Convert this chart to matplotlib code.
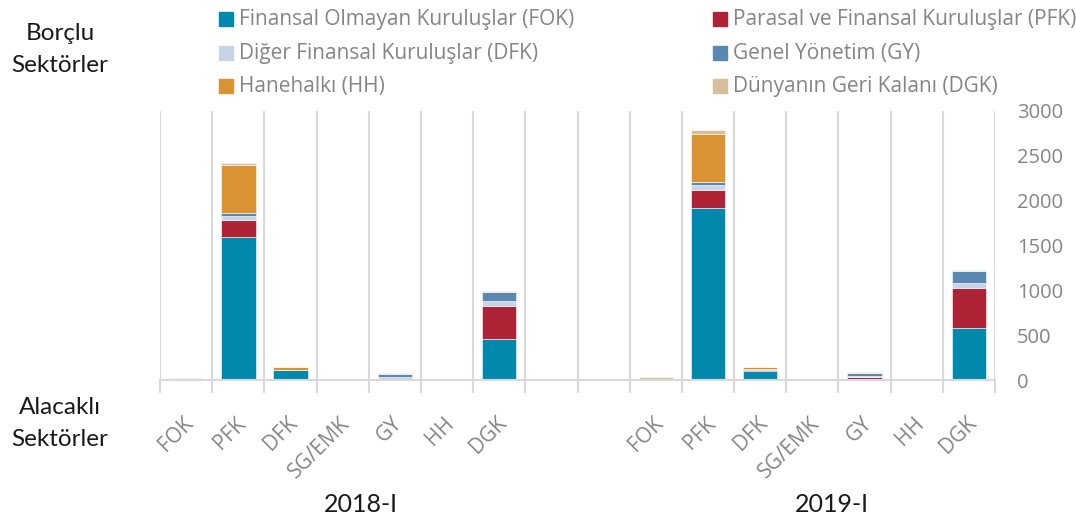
import matplotlib
matplotlib.use("Agg")
import matplotlib.pyplot as plt
from matplotlib.patches import Rectangle
from matplotlib.transforms import blended_transform_factory
import numpy as np

plt.rcParams["font.family"] = ["Lato", "DejaVu Sans"]
LIGHT_FONT = ["Open Sans", "DejaVu Sans"]

categories = ["FOK", "PFK", "DFK", "SG/EMK", "GY", "HH", "DGK"]
periods = ["2018-I", "2019-I"]

series_names = [
    "Finansal Olmayan Kuruluşlar (FOK)",
    "Parasal ve Finansal Kuruluşlar (PFK)",
    "Diğer Finansal Kuruluşlar (DFK)",
    "Genel Yönetim (GY)",
    "Hanehalkı (HH)",
    "Dünyanın Geri Kalanı (DGK)",
]
colors = ["#0089AD", "#AE2335", "#C5D5E6", "#5B87B3", "#DA9332", "#D6BE9A"]

# values per creditor sector, 2018-I
fok_2018 = [0, 1600, 115, 0, 0, 0, 452]
pfk_2018 = [0, 185, 0, 0, 0, 0, 378]
dfk_2018 = [0, 40, 0, 0, 35, 0, 48]
gy_2018 = [0, 38, 0, 0, 30, 0, 103]
hh_2018 = [0, 533, 30, 0, 0, 0, 0]
dgk_2018 = [25, 26, 0, 0, 12, 0, 8]

# 2019-I
fok_2019 = [0, 1918, 100, 0, 0, 0, 585]
pfk_2019 = [0, 200, 10, 0, 35, 0, 445]
dfk_2019 = [0, 52, 0, 0, 5, 0, 51]
gy_2019 = [0, 41, 15, 0, 40, 0, 137]
hh_2019 = [0, 537, 15, 0, 0, 0, 0]
dgk_2019 = [33, 37, 5, 10, 10, 0, 8]

data_2018 = [fok_2018, pfk_2018, dfk_2018, gy_2018, hh_2018, dgk_2018]
data_2019 = [fok_2019, pfk_2019, dfk_2019, gy_2019, hh_2019, dgk_2019]

GRAY = "#858585"
DARK = "#1a1a1a"

fig = plt.figure(figsize=(10.76, 5.22), dpi=100)
ax = fig.add_axes([160 / 1076, 1 - 380 / 522, 835 / 1076, 269 / 522])

n_slots = 16
x_2018 = np.arange(7)
x_2019 = np.arange(9, 16)

for xs, data in [(x_2018, data_2018), (x_2019, data_2019)]:
    bottom = np.zeros(len(xs))
    for vals, c in zip(data, colors):
        vals = np.array(vals, dtype=float)
        ax.bar(xs, vals, 0.66, bottom=bottom, color=c, edgecolor="white", linewidth=0.4)
        bottom += vals

ax.set_xlim(-0.5, n_slots - 0.5)
ax.set_ylim(0, 3000)

for b in np.arange(-0.5, n_slots, 1):
    ax.axvline(b, color="#d9d9d9", lw=1.5, zorder=0)

ax.set_xticks(np.arange(-0.5, n_slots, 1))
ax.set_xticklabels([])
ax.tick_params(axis="x", length=9, width=1.5, color="#d9d9d9", direction="out")

for xs in (x_2018, x_2019):
    for x, lab in zip(xs, categories):
        ax.annotate(lab, (x, 0), xytext=(3, -29), textcoords="offset points",
                    rotation=45, ha="right", va="center", rotation_mode="anchor",
                    color=GRAY, fontsize=15, family=LIGHT_FONT, annotation_clip=False)

ax.yaxis.tick_right()
ax.set_yticks(np.arange(0, 3001, 500))
ax.tick_params(axis="y", length=0, pad=16, labelcolor=GRAY, labelsize=14.5)
for t in ax.get_yticklabels():
    t.set_family(LIGHT_FONT)

for s in ["top", "left", "right"]:
    ax.spines[s].set_visible(False)
ax.spines["bottom"].set_color("#d9d9d9")
ax.spines["bottom"].set_linewidth(1.5)

trans = blended_transform_factory(ax.transData, fig.transFigure)
ax.text(3.35, 1 - 505 / 522, periods[0], transform=trans, ha="center", va="center",
        fontsize=18, color=DARK)
ax.text(12.38, 1 - 505 / 522, periods[1], transform=trans, ha="center", va="center",
        fontsize=18, color=DARK)

fig.text(60 / 1076, 1 - 33 / 522, "Borçlu", ha="center", va="center", fontsize=17.5, color=DARK)
fig.text(60 / 1076, 1 - 66 / 522, "Sektörler", ha="center", va="center", fontsize=17.5, color=DARK)
fig.text(60 / 1076, 1 - 408 / 522, "Alacaklı", ha="center", va="center", fontsize=17.5, color=DARK)
fig.text(60 / 1076, 1 - 440 / 522, "Sektörler", ha="center", va="center", fontsize=17.5, color=DARK)

# legend, two columns by three rows
col_x = [219, 713]
row_y = [19, 53, 86]
for i, (name, c) in enumerate(zip(series_names, colors)):
    cx = col_x[i % 2]
    cy = row_y[i // 2]
    fig.patches.append(Rectangle((cx / 1076, 1 - (cy + 7) / 522), 14 / 1076, 14 / 522,
                                 transform=fig.transFigure, color=c, figure=fig))
    fig.text((cx + 20) / 1076, 1 - cy / 522, name, ha="left", va="center",
             fontsize=15, family=LIGHT_FONT, color=GRAY)

fig.savefig("out.png", dpi=100)
